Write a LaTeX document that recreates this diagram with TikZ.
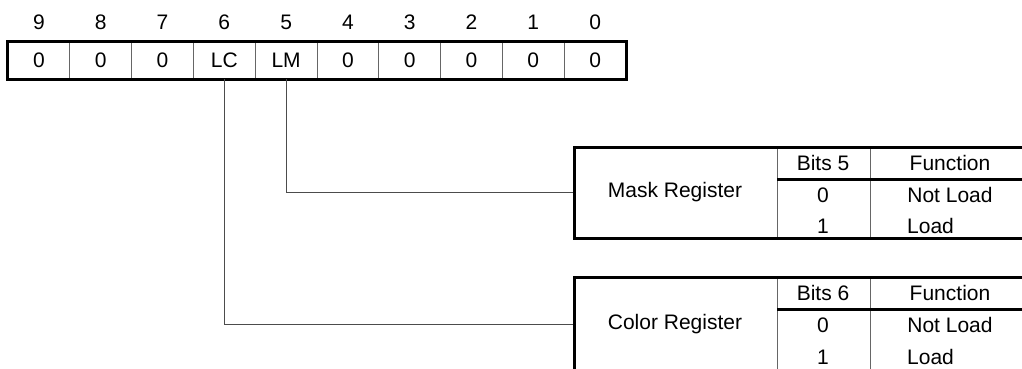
\documentclass[tikz,border=0pt]{standalone}
\usepackage{fontspec}
\setmainfont{Liberation Sans}
\begin{document}
\begin{tikzpicture}[x=1pt,y=-1pt,
  every node/.style={font=\fontsize{21}{23}\selectfont, inner sep=0pt},
  cell/.style={draw=black!60, line width=0.9pt, minimum width=61.8pt, minimum height=37pt},
  bitnum/.style={},
  frame/.style={draw=black, line width=3pt},
  thin/.style={draw=black!60, line width=0.9pt},
  conn/.style={draw=black!70, line width=1pt},
  regname/.style={minimum width=203pt, minimum height=91pt}]
\useasboundingbox (0,0) rectangle (1022,369);
\clip (0,0) rectangle (1022,369);
% register
\foreach \b/\v [count=\i from 0] in {9/0,8/0,7/0,6/LC,5/LM,4/0,3/0,2/0,1/0,0/0}{
  \node[cell] (c\b) at ({8+61.8*\i+30.9},60.5) {\v};
  \node[bitnum] (n\b) at ({8+61.8*\i+30.9},22) {\b};
}
\draw[frame] (c9.north west) rectangle (c0.south east);
% table 1
\node[regname] (mask) at (675,192.5) {Mask Register};
\draw[thin] (777,147) -- (777,238);
\draw[thin] (870,147) -- (870,238);
\draw[frame] (777,179) -- (1040,179);
\draw[frame] (574,147) rectangle (1040,238);
\node (m1) at (823,163) {Bits 5};
\node (m2) at (950,163) {Function};
\node (m3) at (823,195) {0};
\node (m4) at (950,195) {Not Load};
\node (m5) at (823,226) {1};
\node[anchor=west] (m6) at (907,226) {Load};
% table 2
\node[regname] (color) at (675,324) {Color Register};
\draw[thin] (777,277) -- (777,371);
\draw[thin] (870,277) -- (870,371);
\draw[frame] (777,309) -- (1040,309);
\draw[frame] (574,277) rectangle (1040,371);
\node (k1) at (823,293) {Bits 6};
\node (k2) at (950,293) {Function};
\node (k3) at (823,325) {0};
\node (k4) at (950,325) {Not Load};
\node (k5) at (823,357) {1};
\node[anchor=west] (k6) at (907,357) {Load};
% connectors
\draw[conn] (c5.south) |- (mask.west);
\draw[conn] (c6.south) |- (color.west);
\end{tikzpicture}
\end{document}
